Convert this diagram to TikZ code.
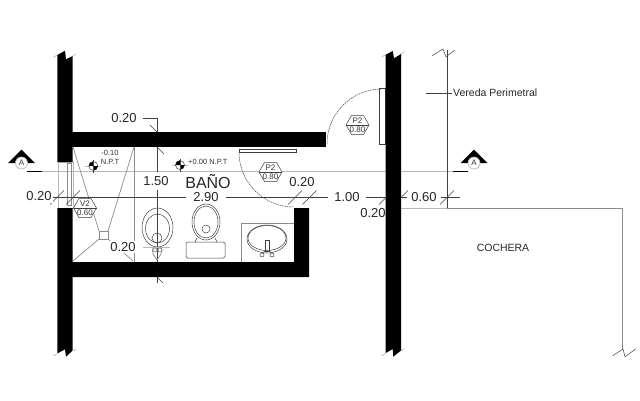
\documentclass[tikz,border=0pt]{standalone}
\usepackage{fontspec}
\setmainfont{Liberation Sans}
\newlength{\du}
\setlength{\du}{1pt}
\definecolor{dimcolor}{rgb}{0.25, 0.25, 0.25}
\definecolor{fixcolor}{rgb}{0.55, 0.55, 0.55}
\definecolor{cutcolor}{rgb}{0.72, 0.72, 0.72}
\tikzset{
  dimline/.style={draw=dimcolor, line width=0.5pt},
  fixline/.style={draw=fixcolor, line width=0.7pt},
  cutline/.style={draw=cutcolor, line width=0.7pt},
  swingline/.style={draw=dimcolor, line width=0.5pt, dash pattern=on 1.6pt off 0.8pt},
  walls/.style={fill=black, draw=none},
  dimtext/.style={font=\fontsize{13}{15}\selectfont, text=black!85, fill=white, inner xsep=5pt, inner ysep=2pt},
  plaintext/.style={font=\fontsize{10.5}{12}\selectfont, text=black!85, inner sep=0pt},
  marktext/.style={font=\fontsize{7.5}{8}\selectfont, text=black!80, inner sep=0pt},
  hextext/.style={font=\fontsize{8}{9}\selectfont, text=black!80, inner sep=0pt}
}
% hexagon tag: x, y, name, top text, bottom text
\newcommand{\hextag}[5]{
\draw[dimline, fill=white] (#1\du-11.5\du,#2\du)--(#1\du-6\du,#2\du-9.5\du)--(#1\du+6\du,#2\du-9.5\du)--(#1\du+11.5\du,#2\du)--(#1\du+6\du,#2\du+9.5\du)--(#1\du-6\du,#2\du+9.5\du)--cycle;
\draw[dimline] (#1\du-11.5\du,#2\du)--(#1\du+11.5\du,#2\du);
\node[hextext] (#3top) at (#1\du,#2\du-4.5\du){#4};
\node[hextext] (#3bot) at (#1\du,#2\du+4.5\du){#5};
}
% level mark: x, y
\newcommand{\levelmark}[2]{
\draw[cutline] (#1\du-8\du,#2\du)--(#1\du+8\du,#2\du);
\draw[dimline, fill=white] (#1\du,#2\du) circle (4.5\du);
\fill[black] (#1\du,#2\du)--(#1\du-4.5\du,#2\du) arc (180:270:4.5\du)--cycle;
\fill[black] (#1\du,#2\du)--(#1\du+4.5\du,#2\du) arc (0:90:4.5\du)--cycle;
\draw[dimline] (#1\du,#2\du-6\du)--(#1\du,#2\du+7\du);
}
% section mark: x of apex, name
\newcommand{\cutmark}[2]{
\fill[black] (#1\du-13.5\du,163\du)--(#1\du,149.5\du)--(#1\du+13.5\du,163\du)--(#1\du+6\du,163\du)--(#1\du,157\du)--(#1\du-6\du,163\du)--cycle;
\draw[cutline, fill=white] (#1\du,163\du) circle (6\du);
\node[hextext] (#2) at (#1\du,163\du){A};
}
% slash tick on a dimension line
\newcommand{\dimtick}[2]{
\draw[dimline] (#1\du-7\du,#2\du+7\du)--(#1\du+7\du,#2\du-7\du);
}
\begin{document}
\begin{tikzpicture}
\pgftransformxscale{1.000000}
\pgftransformyscale{-1.000000}
\useasboundingbox (0\du,0\du) rectangle (640\du,400\du);
% section line
\draw[cutline] (42\du,171\du)--(453\du,171\du);
\draw[black, line width=0.9pt] (27\du,171\du)--(42\du,171\du);
\draw[black, line width=0.9pt] (453\du,171\du)--(468\du,171\du);
\cutmark{21.5}{cutleft}
\cutmark{474}{cutright}
% shower
\draw[fixline] (134\du,147\du)--(134\du,262\du);
\draw[fixline] (73\du,147\du)--(99\du,231\du);
\draw[fixline] (134\du,147\du)--(108\du,231\du);
\draw[fixline] (73\du,261\du)--(99\du,239\du);
\draw[fixline] (133\du,261\du)--(108\du,239\du);
\draw[fixline] (99\du,231\du) rectangle (108\du,239\du);
% window
\draw[cutline] (58\du,162\du) rectangle (73\du,208\du);
\draw[fixline] (67\du,163\du) rectangle (71\du,205\du);
% dimension lines
\draw[dimline] (52\du,197.5\du)--(460\du,197.5\du);
\draw[dimline] (157\du,118\du)--(157\du,283\du);
\draw[dimline] (143\du,118\du)--(157\du,118\du);
\draw[dimline] (150\du,125\du)--(164\du,139\du);
\draw[dimline] (150\du,140\du)--(164\du,154\du);
\draw[dimline] (157\du,277\du)--(163\du,283\du);
\dimtick{57}{197.5}
\dimtick{73}{197.5}
\dimtick{295}{197.5}
\dimtick{309.5}{197.5}
\dimtick{386}{197.5}
\dimtick{401}{197.5}
\dimtick{447}{197.5}
% bidet
\draw[dimline] (157.5\du,227.5\du) ellipse [x radius=15.5\du, y radius=19.5\du];
\draw[dimline] (157.5\du,228.5\du) ellipse [x radius=12\du, y radius=14.5\du];
\draw[dimline] (157\du,238\du) circle (5\du);
\draw[fixline] (152\du,247\du)--(153\du,254\du)--(157\du,260\du)--(161\du,254\du)--(162\du,247\du);
\draw[cutline] (143\du,247.5\du)--(170\du,247.5\du);
\draw[fixline] (155\du,250\du) circle (2\du);
\draw[fixline] (160\du,250\du) circle (2\du);
% toilet
\draw[dimline] (206\du,222\du) ellipse [x radius=14\du, y radius=18\du];
\draw[dimline] (206\du,222\du) ellipse [x radius=12\du, y radius=16\du];
\draw[dimline] (206\du,229\du) circle (4\du);
\draw[dimline, rounded corners=1.5\du] (186\du,242\du) rectangle (225\du,258\du);
\draw[dimline] (195\du,242\du)--(197\du,238\du);
\draw[dimline] (217\du,242\du)--(215\du,238\du);
% sink
\draw[fixline] (294\du,223\du)--(241\du,223\du)--(241\du,262\du);
\draw[dimline] (267\du,239\du) ellipse [x radius=20\du, y radius=14\du];
\draw[dimline] (267\du,238\du) ellipse [x radius=19\du, y radius=12.5\du];
\draw[dimline, fill=white] (265\du,240\du) rectangle (269\du,251\du);
\draw[dimline] (262\du,255\du) circle (2\du);
\draw[dimline] (272\du,255\du) circle (2\du);
\draw[dimline] (262\du,253\du)--(267\du,250\du)--(272\du,253\du);
% doors
\draw[swingline] (327\du,144\du) arc (180:270:55\du);
\draw[dimline] (379\du,88\du) rectangle (385\du,144\du);
\draw[swingline] (239\du,152\du) arc (180:90:55\du);
\draw[dimline] (239\du,149\du) rectangle (296\du,152\du);
% outer lines
\draw[fixline] (401\du,208\du)--(622\du,208\du)--(622\du,349\du);
\draw[cutline] (401\du,208\du)--(447\du,208\du);
\draw[dimline] (447\du,50\du)--(447\du,208\du);
\draw[dimline] (432\du,55.7\du)--(443\du,49\du)--(446\du,56.7\du)--(455\du,50\du);
\draw[dimline] (612.7\du,355.7\du)--(623\du,349\du)--(625\du,356.7\du)--(635.7\du,349\du);
\draw[dimline] (426\du,93\du)--(452\du,93\du);
% walls
\fill[walls] (57.3\du,55\du)--(65\du,50.7\du)--(66\du,59.3\du)--(72.7\du,56\du)--(72.7\du,162\du)--(57.3\du,162\du)--cycle;
\fill[walls] (57.3\du,208\du)--(72.7\du,208\du)--(72.7\du,350.5\du)--(66\du,356.7\du)--(65\du,349.3\du)--(57.3\du,353.5\du)--cycle;
\fill[walls] (385.7\du,54.7\du)--(392.7\du,51\du)--(394\du,58.3\du)--(401\du,54\du)--(401\du,350.5\du)--(393.3\du,356.7\du)--(392.7\du,349\du)--(385.7\du,353\du)--cycle;
\fill[walls] (72\du,132\du) rectangle (326\du,147\du);
\fill[walls] (72\du,262\du)--(294\du,262\du)--(294\du,208\du)--(309\du,208\du)--(309\du,277\du)--(72\du,277\du)--cycle;
% wall breaks
\draw[cutline] (53.3\du,57.3\du)--(57.3\du,55\du);
\draw[cutline] (72.7\du,56\du)--(76\du,54\du);
\draw[cutline] (381.7\du,56.7\du)--(385.7\du,54.7\du);
\draw[cutline] (401\du,54\du)--(404.3\du,51.7\du);
\draw[cutline] (53.3\du,356\du)--(57.3\du,353.5\du);
\draw[cutline] (72.7\du,350.5\du)--(76\du,349.3\du);
\draw[cutline] (381.7\du,355.7\du)--(385.7\du,353\du);
\draw[cutline] (401\du,350.5\du)--(404\du,349\du);
% tags
\hextag{85}{208}{tagvdos}{V2}{0.60}
\hextag{357.5}{125}{tagpuno}{P2}{0.80}
\hextag{270.5}{172}{tagpdos}{P2}{0.80}
% levels
\levelmark{93.3}{166}
\node[marktext] (levelup) at (110\du,152.5\du){-0.10};
\node[marktext] (levelnpt) at (110\du,162\du){N.P.T};
\levelmark{180}{165}
\node[marktext, anchor=west] (levelzero) at (188\du,162\du){+0.00 N.P.T};
% labels
\node[dimtext, inner xsep=1pt] (dimleft) at (39\du,196\du){0.20};
\node[dimtext, inner xsep=1pt] (dimtop) at (124\du,118\du){0.20};
\node[dimtext, inner ysep=4pt] (dimhigh) at (156\du,181\du){1.50};
\node[dimtext, inner xsep=1pt, inner ysep=1pt] (dimlow) at (123\du,247\du){0.20};
\node[dimtext, inner xsep=7pt, inner ysep=1pt] (dimwide) at (206\du,197.5\du){2.90};
\node[dimtext, inner xsep=1pt, inner ysep=1pt] (dimjamb) at (302\du,182\du){0.20};
\node[dimtext, inner xsep=6pt, inner ysep=1pt] (dimdoor) at (347\du,197.5\du){1.00};
\node[dimtext, fill=none, inner sep=0pt] (dimwall) at (373\du,213\du){0.20};
\node[dimtext, inner xsep=4pt, inner ysep=1pt] (dimwalk) at (424\du,197.5\du){0.60};
\node[font=\fontsize{16}{18}\selectfont, text=black!85, inner sep=0pt] (bano) at (208\du,182\du){BAÑO};
\node[plaintext, anchor=west] (vereda) at (453\du,93\du){Vereda Perimetral};
\node[plaintext] (cochera) at (503\du,248\du){COCHERA};
\end{tikzpicture}
\end{document}
